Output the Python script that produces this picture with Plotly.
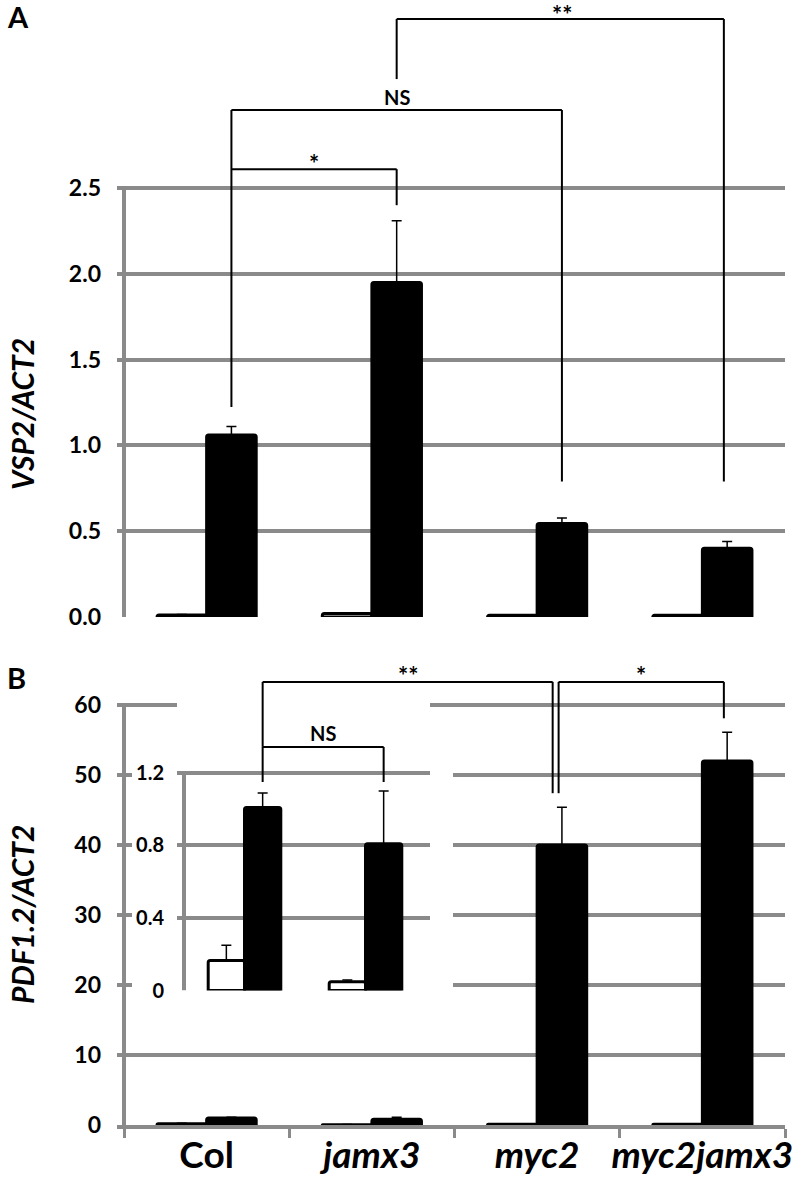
import plotly.graph_objects as go

W, H = 796, 1177

# ---------------- data ----------------
categories = ["Col", "jamx3", "myc2", "myc2jamx3"]
cat_labels = ["Col", "<i>jamx3</i>", "<i>myc2</i>", "<i>myc2jamx3</i>"]

# Panel A : VSP2/ACT2  (open = untreated, filled = treated)
vsp2_open = [0.012, 0.02, 0.01, 0.01]
vsp2_open_err = [0.003, 0.005, 0.002, 0.002]
vsp2_filled = [1.06, 1.95, 0.545, 0.40]
vsp2_filled_err = [0.05, 0.36, 0.032, 0.04]
a_ticks = [0, 0.5, 1.0, 1.5, 2.0, 2.5]

# Panel B : PDF1.2/ACT2
pdf_open = [0.166, 0.048, 0.12, 0.12]
pdf_open_err = [0.084, 0.01, 0.02, 0.02]
pdf_filled = [1.01, 0.81, 40.0, 52.0]
pdf_filled_err = [0.08, 0.29, 5.4, 4.1]
b_ticks = [0, 10, 20, 30, 40, 50, 60]
inset_ticks = [0, 0.4, 0.8, 1.2]
inset_ticktext = ["0", "0.4", "0.8", "1.2"]

# ---------------- layout geometry ----------------
GRID = "#8a8a8a"
FONT = "Lato"

def px_x(px):
    return px / W

def px_y(py):
    return 1 - py / H

XA_DOM = [px_x(117), px_x(785)]
XA_RNG = [-0.5 - 7 / 165.0, 3.5]
YA_DOM = [px_y(617), px_y(1)]
YA_RNG = [0, 3.59]

XB_DOM = XA_DOM
XB_RNG = XA_RNG
YB_DOM = [px_y(1125), px_y(656)]
YB_RNG = [0, 67]

XI_DOM = [px_x(177), px_x(430)]
XI_RNG = [-0.5 - 7 / 121.0, -0.5 + 246 / 121.0]
YI_DOM = [px_y(990.5), px_y(673.3)]
YI_RNG = [0, 1.75]


def to_paper(v, dom, rng):
    return dom[0] + (v - rng[0]) / (rng[1] - rng[0]) * (dom[1] - dom[0])


def from_paper(p, dom, rng):
    return rng[0] + (p - dom[0]) / (dom[1] - dom[0]) * (rng[1] - rng[0])


OFF = 0.15  # centre offset of the second (filled) bar in a group

fig = go.Figure()

bar_line = dict(color="black", width=3)


def add_pair(xa, ya, cats, open_v, open_e, fill_v, fill_e):
    n = len(cats)
    fig.add_trace(go.Bar(
        x=cats, y=open_v, xaxis=xa, yaxis=ya,
        marker=dict(color="white", line=bar_line, cornerradius=2),
        error_y=dict(type="data", array=open_e, arrayminus=[0] * n, symmetric=False,
                     color="black", thickness=1.5, width=5),
        showlegend=False, hoverinfo="skip"))
    fig.add_trace(go.Bar(
        x=cats, y=fill_v, xaxis=xa, yaxis=ya,
        marker=dict(color="black", line=bar_line, cornerradius=2),
        error_y=dict(type="data", array=fill_e, arrayminus=[0] * n, symmetric=False,
                     color="black", thickness=1.5, width=5),
        showlegend=False, hoverinfo="skip"))


add_pair("x", "y", categories, vsp2_open, vsp2_open_err, vsp2_filled, vsp2_filled_err)
add_pair("x2", "y2", categories, pdf_open, pdf_open_err, pdf_filled, pdf_filled_err)
add_pair("x3", "y3", categories[:2], pdf_open[:2], pdf_open_err[:2], pdf_filled[:2], pdf_filled_err[:2])

shapes = []
annos = []


def seg(xref, yref, x0, y0, x1, y1, color="black", width=2, layer="above"):
    shapes.append(dict(type="line", xref=xref, yref=yref, x0=x0, y0=y0, x1=x1, y1=y1,
                       line=dict(color=color, width=width), layer=layer))


def star(xref, yref, x, y, text, size=24, shift=6):
    annos.append(dict(xref=xref, yref=yref, x=x, y=y, text="<b>%s</b>" % text, showarrow=False,
                      yanchor="middle", xanchor="center", yshift=shift,
                      font=dict(family=FONT, size=size, color="black")))


# --- axis lines (y) drawn only over the tick range ---
seg("x", "y", -0.5, 0, -0.5, a_ticks[-1], color=GRID, width=4, layer="between")
seg("x2", "y2", -0.5, 0, -0.5, b_ticks[-1], color=GRID, width=4, layer="between")
seg("x3", "y3", -0.5, 0, -0.5, inset_ticks[-1], color=GRID, width=4, layer="between")

# white panel behind inset (hides the main gridlines)
shapes.append(dict(type="rect", xref="x2", yref="y2",
                   x0=from_paper(px_x(132), XB_DOM, XB_RNG), x1=from_paper(px_x(453), XB_DOM, XB_RNG),
                   y0=18, y1=55, fillcolor="white", line=dict(width=0), layer="between"))

# --- significance brackets, panel A ---
ia = [i + OFF for i in range(4)]
top_star, top_ns, top_dd = 2.61, 2.955, 3.485
seg("x", "y", ia[0], 1.224, ia[0], top_ns)
seg("x", "y", ia[0], top_star, ia[1], top_star)
seg("x", "y", ia[1], top_star, ia[1], 2.40)
star("x", "y", (ia[0] + ia[1]) / 2, top_star, "*")
seg("x", "y", ia[0], top_ns, ia[2], top_ns)
seg("x", "y", ia[2], top_ns, ia[2], 0.79)
star("x", "y", (ia[0] + ia[2]) / 2, top_ns, "NS", 20, 13)
seg("x", "y", ia[1], 3.135, ia[1], top_dd)
seg("x", "y", ia[1], top_dd, ia[3] - 0.02, top_dd)
seg("x", "y", ia[3] - 0.02, top_dd, ia[3] - 0.02, 0.79)
star("x", "y", (ia[1] + ia[3]) / 2, top_dd, "**", 24, 5)

# --- significance brackets, panel B (inset part) ---
ii = [i + OFF for i in range(2)]
top_ns_i = 1.344
leg_i = 1.15
seg("x3", "y3", ii[0], leg_i, ii[0], top_ns_i)
seg("x3", "y3", ii[0], top_ns_i, ii[1], top_ns_i)
seg("x3", "y3", ii[1], top_ns_i, ii[1], leg_i)
star("x3", "y3", (ii[0] + ii[1]) / 2, top_ns_i, "NS", 20, 14)

# --- panel B main brackets ---
col_x2 = from_paper(to_paper(ii[0], XI_DOM, XI_RNG), XB_DOM, XB_RNG)
col_y2 = from_paper(to_paper(top_ns_i, YI_DOM, YI_RNG), YB_DOM, YB_RNG)
top_b = 63.3
l_dd = 2 + OFF - 0.056
l_s = 2 + OFF - 0.02
r_s = 3 + OFF - 0.02
seg("x2", "y2", col_x2, col_y2, col_x2, top_b)
seg("x2", "y2", col_x2, top_b, l_dd, top_b)
seg("x2", "y2", l_dd, top_b, l_dd, 47.4)
star("x2", "y2", (col_x2 + l_dd) / 2, top_b, "**")
seg("x2", "y2", l_s, 47.4, l_s, top_b)
seg("x2", "y2", l_s, top_b, r_s, top_b)
seg("x2", "y2", r_s, top_b, r_s, 58.1)
star("x2", "y2", (l_s + r_s) / 2, top_b, "*")

# --- panel letters and y titles ---
annos.append(dict(xref="paper", yref="paper", x=px_x(5), y=px_y(17), text="<b>A</b>",
                  showarrow=False, xanchor="left", yanchor="middle",
                  font=dict(family=FONT, size=29, color="black")))
annos.append(dict(xref="paper", yref="paper", x=px_x(5), y=px_y(677), text="<b>B</b>",
                  showarrow=False, xanchor="left", yanchor="middle",
                  font=dict(family=FONT, size=29, color="black")))
annos.append(dict(xref="paper", yref="paper", x=px_x(22), y=px_y(414), text="<b><i>VSP2/ACT2</i></b>",
                  showarrow=False, textangle=-90, xanchor="center", yanchor="middle",
                  font=dict(family=FONT, size=30, color="black")))
annos.append(dict(xref="paper", yref="paper", x=px_x(22), y=px_y(915), text="<b><i>PDF1.2/ACT2</i></b>",
                  showarrow=False, textangle=-90, xanchor="center", yanchor="middle",
                  font=dict(family=FONT, size=30, color="black")))

tickfont_main = dict(family=FONT, size=23, color="black", weight="bold")
tickfont_inset = dict(family=FONT, size=20, color="black", weight="bold")

common = dict(automargin=False, zeroline=False)

fig.update_layout(
    width=W, height=H, autosize=False,
    margin=dict(l=0, r=0, t=0, b=0, pad=0),
    paper_bgcolor="white", plot_bgcolor="white",
    barmode="group", bargap=0.4, bargroupgap=0,
    showlegend=False,
    shapes=shapes, annotations=annos,
    xaxis=dict(domain=XA_DOM, range=XA_RNG, type="category", categoryorder="array",
               categoryarray=categories, showgrid=False, showline=False,
               showticklabels=False, ticks="", **common),
    yaxis=dict(domain=YA_DOM, range=YA_RNG, tickmode="array", tickvals=a_ticks,
               ticktext=["%.1f" % v for v in a_ticks], showgrid=True, gridcolor=GRID, gridwidth=4,
               showline=False, ticks="", ticklabelstandoff=15, tickfont=tickfont_main, **common),
    xaxis2=dict(domain=XB_DOM, range=XB_RNG, type="category", categoryorder="array",
                categoryarray=categories, tickmode="array", tickvals=categories, ticktext=cat_labels,
                tickson="boundaries", ticks="outside", ticklen=9, tickwidth=3, tickcolor=GRID,
                tickangle=0, showgrid=False, showline=True, linecolor=GRID, linewidth=4,
                ticklabelstandoff=-5, tickfont=dict(family=FONT, size=37, color="black", weight="bold"),
                anchor="y2", **common),
    yaxis2=dict(domain=YB_DOM, range=YB_RNG, tickmode="array", tickvals=b_ticks,
                ticktext=[str(v) for v in b_ticks], showgrid=True, gridcolor=GRID, gridwidth=4,
                showline=False, ticks="", ticklabelstandoff=15, tickfont=tickfont_main,
                anchor="x2", **common),
    xaxis3=dict(domain=XI_DOM, range=XI_RNG, type="category", categoryorder="array",
                categoryarray=categories[:2], showgrid=False, showline=False,
                showticklabels=False, ticks="", anchor="y3", **common),
    yaxis3=dict(domain=YI_DOM, range=YI_RNG, tickmode="array", tickvals=inset_ticks,
                ticktext=inset_ticktext, showgrid=True, gridcolor=GRID, gridwidth=4,
                showline=False, ticks="", ticklabelstandoff=12, tickfont=tickfont_inset,
                anchor="x3", **common),
)

fig.write_html("out.html", config=dict(displayModeBar=False),
               post_script="document.body.style.margin='0px';")
